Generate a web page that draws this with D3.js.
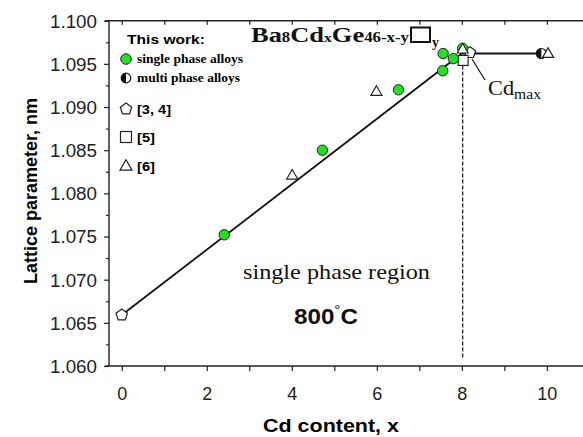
<!DOCTYPE html>
<html>
<head>
<meta charset="utf-8">
<script src="https://cdn.jsdelivr.net/npm/d3@7"></script>
<style>
  body { margin: 0; background: #fff; }
  svg { display: block; }
  .sans { font-family: "Liberation Sans", Arial, sans-serif; }
  .serif { font-family: "Liberation Serif", "Times New Roman", serif; }
</style>
</head>
<body>
<svg id="viz" width="583" height="437"></svg>
<script>
// this work, single phase alloys
var singleX = [2.41, 4.72, 6.51, 7.55, 7.56, 7.80, 8.02];
var singleY = [1.0752, 1.0850, 1.0920, 1.0942, 1.0962, 1.0956, 1.0968];
// this work, multi phase alloys
var multiX = [9.87];
var multiY = [1.0962];
// refs [3, 4]
var pentX = [0, 8.19];
var pentY = [1.0659, 1.0963];
// ref [5]
var squareX = [8.03];
var squareY = [1.0954];
// ref [6]
var triX = [4.01, 5.99, 8.02, 10.03];
var triY = [1.0821, 1.0918, 1.0967, 1.0962];
// guide line
var lineX = [0, 8.0, 9.9];
var lineY = [1.0659, 1.0962, 1.0962];
var cdMax = 8.02;

var xTicks = [0, 2, 4, 6, 8, 10];
var yTicks = [1.060, 1.065, 1.070, 1.075, 1.080, 1.085, 1.090, 1.095, 1.100];

var GREEN = "#22e022";

var svg = d3.select("#viz");
var x = d3.scaleLinear().domain([-0.3, 10.85]).range([109, 583]);
var y = d3.scaleLinear().domain([1.060, 1.100]).range([366, 20.7]);

function zip(a, b) { return a.map(function(v, i) { return [v, b[i]]; }); }

// the source figure is a bit stretched sideways, so stretch text to its width
function fit(sel, len) {
    return sel.attr("textLength", len).attr("lengthAdjust", "spacingAndGlyphs");
}

// axes
var axBottom = svg.append("g").attr("transform", "translate(0,366)")
    .call(d3.axisBottom(x).tickValues(d3.range(0, 11)).tickSize(5)
        .tickFormat(function(d) { return xTicks.indexOf(d) >= 0 ? d : ""; }));
var axTop = svg.append("g").attr("transform", "translate(0,20.7)")
    .call(d3.axisBottom(x).tickValues(d3.range(0, 11)).tickSize(4).tickFormat(""));
var axLeft = svg.append("g").attr("transform", "translate(109,0)")
    .call(d3.axisLeft(y).tickValues(yTicks).tickSize(5).tickFormat(d3.format(".3f")));
var axLeftMinor = svg.append("g").attr("transform", "translate(109,0)")
    .call(d3.axisLeft(y).tickValues(yTicks.slice(0, -1).map(function(d) { return d + 0.0025; }))
        .tickSize(3).tickFormat(""));

[axBottom, axTop, axLeft, axLeftMinor].forEach(function(g) {
    g.select(".domain").remove();
    g.attr("font-size", null).attr("font-family", null);
    g.selectAll("line").attr("stroke", "#222").attr("stroke-width", 1.2);
    g.selectAll("text").attr("class", "sans").attr("font-size", 18).attr("fill", "#222");
});
axBottom.selectAll(".tick text").attr("y", 21).attr("dy", "0.71em");
axLeft.selectAll(".tick text").attr("x", -12).attr("dy", "0.36em")
    .attr("textLength", 47).attr("lengthAdjust", "spacingAndGlyphs");

svg.append("line").attr("x1", 105).attr("x2", 583).attr("y1", 366).attr("y2", 366)
    .attr("stroke", "#222").attr("stroke-width", 1.4);
svg.append("line").attr("x1", 105).attr("x2", 583).attr("y1", 20.7).attr("y2", 20.7)
    .attr("stroke", "#222").attr("stroke-width", 1.4);
svg.append("line").attr("x1", 109).attr("x2", 109).attr("y1", 20.7).attr("y2", 366)
    .attr("stroke", "#222").attr("stroke-width", 1.4);

// axis titles
fit(svg.append("text").attr("class", "sans").attr("x", 331).attr("y", 432)
    .attr("text-anchor", "middle").attr("font-size", 18).attr("font-weight", "bold")
    .text("Cd content, x"), 136);
svg.append("text").attr("class", "sans")
    .attr("transform", "translate(37,191) rotate(-90)")
    .attr("text-anchor", "middle").attr("font-size", 18).attr("font-weight", "bold")
    .text("Lattice parameter, nm");

// guide lines
svg.append("path").datum(zip(lineX, lineY))
    .attr("d", d3.line().x(function(d) { return x(d[0]); }).y(function(d) { return y(d[1]); }))
    .attr("fill", "none").attr("stroke", "#111").attr("stroke-width", 1.8);
svg.append("line").attr("x1", x(cdMax)).attr("x2", x(cdMax))
    .attr("y1", y(1.0948)).attr("y2", y(1.0608))
    .attr("stroke", "#111").attr("stroke-width", 1.2).attr("stroke-dasharray", "4,2");

// marker shapes
function pentagon(r) {
    return d3.range(5).map(function(i) {
        var a = -Math.PI / 2 + i * 2 * Math.PI / 5;
        return [r * Math.cos(a), r * Math.sin(a)];
    });
}
function drawPent(g, cx, cy, r) {
    g.append("polygon").attr("points", pentagon(r).map(function(p) { return [cx + p[0], cy + p[1]].join(","); }).join(" "))
        .attr("fill", "#fff").attr("stroke", "#222").attr("stroke-width", 1.2);
}
function drawTri(g, cx, cy, s) {
    var h = s * 0.87;
    g.append("polygon")
        .attr("points", [[cx, cy - h * 0.6], [cx + s / 2, cy + h * 0.4], [cx - s / 2, cy + h * 0.4]].map(function(p) { return p.join(","); }).join(" "))
        .attr("fill", "#fff").attr("stroke", "#222").attr("stroke-width", 1.2);
}
function drawSquare(g, cx, cy, s) {
    g.append("rect").attr("x", cx - s / 2).attr("y", cy - s / 2).attr("width", s).attr("height", s)
        .attr("fill", "#fff").attr("stroke", "#222").attr("stroke-width", 1.2);
}
function drawHalf(g, cx, cy, r) {
    g.append("circle").attr("cx", cx).attr("cy", cy).attr("r", r)
        .attr("fill", "#fff").attr("stroke", "#111").attr("stroke-width", 1.2);
    g.append("path")
        .attr("d", "M" + cx + "," + (cy - r) + " A" + r + "," + r + " 0 0,0 " + cx + "," + (cy + r) + " Z")
        .attr("fill", "#111");
}
function drawGreen(g, cx, cy, r) {
    g.append("circle").attr("cx", cx).attr("cy", cy).attr("r", r)
        .attr("fill", GREEN).attr("stroke", "#222").attr("stroke-width", 1);
}

var marks = svg.append("g");
zip(pentX, pentY).forEach(function(d) { drawPent(marks, x(d[0]), y(d[1]), 6); });
zip(multiX, multiY).forEach(function(d) { drawHalf(marks, x(d[0]), y(d[1]), 5); });
zip(squareX, squareY).forEach(function(d) { drawSquare(marks, x(d[0]), y(d[1]), 10); });
zip(singleX, singleY).forEach(function(d) { drawGreen(marks, x(d[0]), y(d[1]), 5.2); });
zip(triX, triY).forEach(function(d) { drawTri(marks, x(d[0]), y(d[1]), 11); });

// legend
var lg = svg.append("g");
fit(lg.append("text").attr("class", "sans").attr("x", 127).attr("y", 44)
    .attr("font-size", 13.5).attr("font-weight", "bold").text("This work:"), 78);
drawGreen(lg, 126, 59, 5.3);
fit(lg.append("text").attr("class", "serif").attr("x", 137).attr("y", 63)
    .attr("font-size", 12).attr("font-weight", "bold").text("single phase alloys"), 106);
drawHalf(lg, 126, 78, 4.8);
fit(lg.append("text").attr("class", "serif").attr("x", 137).attr("y", 82)
    .attr("font-size", 12).attr("font-weight", "bold").text("multi phase alloys"), 103);
drawPent(lg, 126, 109, 6);
fit(lg.append("text").attr("class", "sans").attr("x", 137).attr("y", 114)
    .attr("font-size", 13).attr("font-weight", "bold").text("[3, 4]"), 34);
drawSquare(lg, 126, 137, 11);
fit(lg.append("text").attr("class", "sans").attr("x", 137).attr("y", 142)
    .attr("font-size", 13).attr("font-weight", "bold").text("[5]"), 18);
drawTri(lg, 126, 166, 12);
fit(lg.append("text").attr("class", "sans").attr("x", 137).attr("y", 171)
    .attr("font-size", 13).attr("font-weight", "bold").text("[6]"), 18);

// formula title
var t = svg.append("text").attr("class", "serif").attr("x", 251).attr("y", 42)
    .attr("font-weight", "bold").attr("fill", "#111");
t.append("tspan").attr("font-size", 22).text("Ba");
t.append("tspan").attr("font-size", 14).text("8");
t.append("tspan").attr("font-size", 22).text("Cd");
t.append("tspan").attr("font-size", 13).text("x");
t.append("tspan").attr("font-size", 22).text("Ge");
t.append("tspan").attr("font-size", 14).text("46-x-y");
fit(t, 158);
svg.append("rect").attr("x", 411).attr("y", 27.5).attr("width", 19).attr("height", 14.5)
    .attr("fill", "none").attr("stroke", "#111").attr("stroke-width", 2);
svg.append("text").attr("class", "serif").attr("x", 432).attr("y", 47)
    .attr("font-size", 14).attr("font-weight", "bold").attr("fill", "#111").text("y");

// Cd max annotation
svg.append("line").attr("x1", 485).attr("y1", 80).attr("x2", 472).attr("y2", 59)
    .attr("stroke", "#111").attr("stroke-width", 1.2);
var cm = svg.append("text").attr("class", "serif").attr("x", 488).attr("y", 95)
    .attr("font-size", 20).attr("fill", "#111");
cm.append("tspan").text("Cd");
cm.append("tspan").attr("font-size", 14).attr("dy", 4).text("max");
fit(cm, 53);

// region labels
fit(svg.append("text").attr("class", "serif").attr("x", 243).attr("y", 279)
    .attr("font-size", 22).attr("fill", "#111").text("single phase region"), 187);
var deg = svg.append("text").attr("class", "sans").attr("x", 294).attr("y", 324)
    .attr("font-size", 22).attr("font-weight", "bold").attr("fill", "#111");
deg.append("tspan").text("800");
deg.append("tspan").attr("font-size", 14).attr("font-weight", "normal").attr("dy", -9).text("°");
deg.append("tspan").attr("dy", 9).text("C");
fit(deg, 64);
</script>
</body>
</html>
